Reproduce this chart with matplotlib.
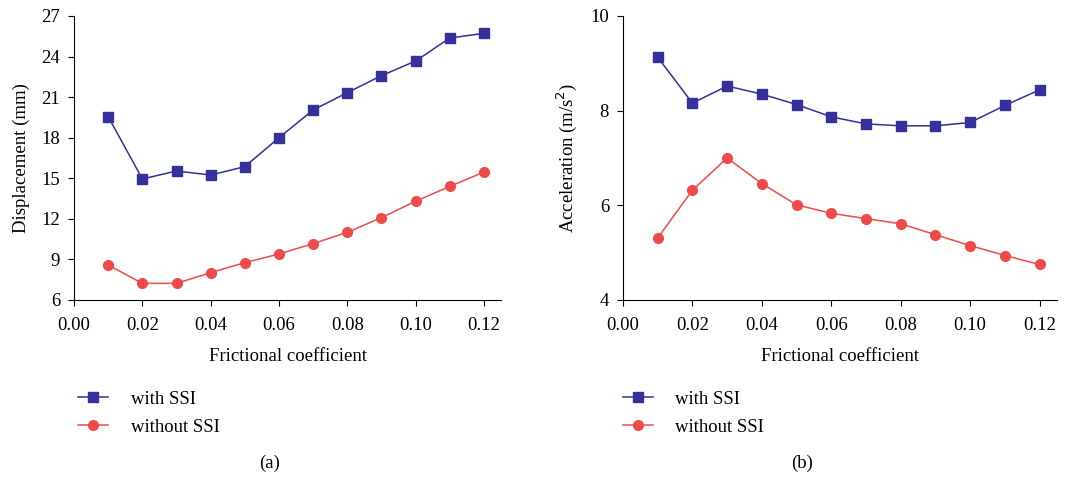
import matplotlib
matplotlib.use("Agg")
import matplotlib.pyplot as plt
from matplotlib.lines import Line2D

# =============================
# Dados
# =============================
coef = [0.01, 0.02, 0.03, 0.04, 0.05, 0.06, 0.07, 0.08, 0.09, 0.10, 0.11, 0.12]

desl_com_ssi = [19.56, 14.95, 15.54, 15.24, 15.86, 18.0, 20.05, 21.33, 22.59, 23.67, 25.37, 25.72]
desl_sem_ssi = [8.59, 7.23, 7.23, 8.02, 8.76, 9.4, 10.17, 11.0, 12.09, 13.3, 14.4, 15.46]

acel_com_ssi = [9.13, 8.16, 8.52, 8.35, 8.13, 7.87, 7.72, 7.68, 7.68, 7.75, 8.11, 8.44]
acel_sem_ssi = [5.31, 6.32, 7.0, 6.46, 6.01, 5.83, 5.72, 5.61, 5.38, 5.15, 4.94, 4.75]

xticks = [0.00, 0.02, 0.04, 0.06, 0.08, 0.10, 0.12]
yticks_desl = [6, 9, 12, 15, 18, 21, 24, 27]
yticks_acel = [4, 6, 8, 10]

AZUL = "#35309a"
VERMELHO = "#ef4a4a"

plt.rcParams["font.family"] = ["Liberation Serif", "DejaVu Serif"]
plt.rcParams["font.size"] = 13.5


def painel(ax, y1, y2, yticks, ylabel):
    ax.plot(coef, y1, color=AZUL, lw=1.1, marker="s", ms=6.5)
    ax.plot(coef, y2, color=VERMELHO, lw=1.1, marker="o", ms=7)
    ax.set_xlim(0, 0.125)
    ax.set_ylim(yticks[0], yticks[-1])
    ax.set_xticks(xticks)
    ax.set_xticklabels([f"{t:.2f}" for t in xticks])
    ax.set_yticks(yticks)
    ax.set_ylabel(ylabel, labelpad=8)
    ax.set_xlabel("Frictional coefficient", labelpad=10)
    for s in ("top", "right"):
        ax.spines[s].set_visible(False)
    ax.tick_params(direction="out", length=4, width=0.8)
    ax.tick_params(axis="x", pad=8)
    ax.tick_params(axis="y", pad=6)


fig = plt.figure(figsize=(10.7, 4.79), dpi=100)
ax1 = fig.add_axes([0.0692, 0.3737, 0.399, 0.5929])
ax2 = fig.add_axes([0.5822, 0.3737, 0.4056, 0.5929])

painel(ax1, desl_com_ssi, desl_sem_ssi, yticks_desl, "Displacement (mm)")
painel(ax2, acel_com_ssi, acel_sem_ssi, yticks_acel, "Acceleration (m/s$^2$)")

handles = [
    Line2D([], [], color=AZUL, lw=1.1, marker="s", ms=6.5),
    Line2D([], [], color=VERMELHO, lw=1.1, marker="o", ms=7),
]
labels = ["with SSI", "without SSI"]
for x0 in (0.073, 0.582):
    fig.legend(handles, labels, loc="upper left", bbox_to_anchor=(x0, 0.185),
               frameon=False, handlelength=1.6, handletextpad=1.2, labelspacing=0.6,
               borderaxespad=0, borderpad=0)

fig.text(0.252, 0.033, "(a)", ha="center", va="center")
fig.text(0.750, 0.033, "(b)", ha="center", va="center")

fig.savefig("out.png", dpi=100)
